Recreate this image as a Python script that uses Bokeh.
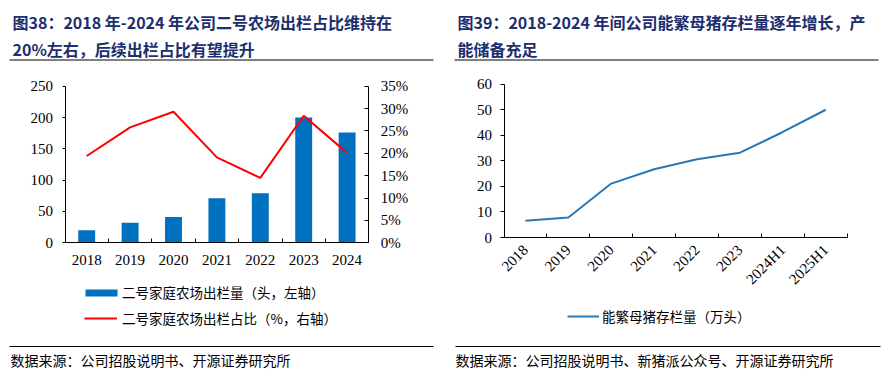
import math
from bokeh.plotting import figure
from bokeh.models import (Range1d, LinearAxis, FixedTicker, NumeralTickFormatter, Label,
                          BoxAnnotation, Legend, LegendItem, ColumnDataSource,
                          CustomJSTickFormatter)
from bokeh.layouts import row
from bokeh.embed import file_html
from bokeh.resources import INLINE

# ---------------- data ----------------
years_a = ["2018", "2019", "2020", "2021", "2022", "2023", "2024"]
output_heads = [20, 32, 41, 71, 79, 200, 176]          # 二号家庭农场出栏量（头）
output_share = [0.194, 0.258, 0.293, 0.191, 0.145, 0.284, 0.201]  # 出栏占比
left_ticks = [0, 50, 100, 150, 200, 250]
pct_ticks = [0, 0.05, 0.10, 0.15, 0.20, 0.25, 0.30, 0.35]

periods_b = ["2018", "2019", "2020", "2021", "2022", "2023", "2024H1", "2025H1"]
sows = [6.6, 7.8, 21.1, 26.7, 30.6, 33.2, 41.3, 50.0]  # 能繁母猪存栏量（万头）
sow_ticks = [0, 10, 20, 30, 40, 50, 60]

title_a = ["图38：2018 年-2024 年公司二号农场出栏占比维持在", "20%左右，后续出栏占比有望提升"]
title_b = ["图39：2018-2024 年间公司能繁母猪存栏量逐年增长，产", "能储备充足"]
legend_a = ["二号家庭农场出栏量（头，左轴）", "二号家庭农场出栏占比（%，右轴）"]
legend_b = "能繁母猪存栏量（万头）"
source_a = "数据来源：公司招股说明书、开源证券研究所"
source_b = "数据来源：公司招股说明书、新猪派公众号、开源证券研究所"

# ---------------- styles / layout ----------------
CJK = "Noto Sans CJK SC"
NUM = "Liberation Serif"
NAVY = "#1C2E6E"
BAR = "#0070C0"
RED = "#FF0000"
BLUE_LINE = "#2878B5"
H = 373
TITLE_SIZE = "16px"
LEGEND_SIZE = "13.5px"


def ranges_for(W, n, px_left, px_right, vmax, px_top, px_bottom):
    """Data ranges so that the plot area lands at the given pixel box while the
    frame covers the whole canvas (so texts outside the plot area are not clipped)."""
    ux = (px_right - px_left) / n
    uy = (px_bottom - px_top) / vmax
    xr = Range1d(-px_left / ux, n + (W - px_right) / ux)
    yr = Range1d(-(H - px_bottom) / uy, vmax + px_top / uy)
    return xr, yr


def style_axis(ax, tick_in=0, tick_out=0, standoff=8):
    ax.axis_line_color = "black"
    ax.axis_line_width = 1
    ax.major_tick_in = tick_in
    ax.major_tick_out = tick_out
    ax.major_tick_line_color = "black"
    ax.minor_tick_line_color = "black"
    ax.minor_tick_in = 0
    ax.minor_tick_out = 0
    ax.major_label_standoff = standoff
    ax.major_label_text_font = NUM
    ax.major_label_text_font_size = "15px"
    ax.major_label_text_color = "black"


def cat_axis(labels, orientation="horizontal", standoff=9):
    n = len(labels)
    ax = LinearAxis(
        ticker=FixedTicker(ticks=[i + 0.5 for i in range(n)], minor_ticks=list(range(1, n + 1))),
        formatter=CustomJSTickFormatter(args=dict(labels=labels),
                                        code="const i = Math.floor(tick); return (i >= 0 && i < labels.length) ? labels[i] : '';"),
        major_label_orientation=orientation, fixed_location=0, bounds=(0, n),
    )
    style_axis(ax, 0, 0, standoff)
    ax.major_tick_line_color = None
    ax.minor_tick_in = 4
    ax.minor_tick_out = 0
    return ax


def add_text(p, text, x, y, size, bold=False, color="black"):
    p.add_layout(Label(x=x, y=y, x_units="screen", y_units="screen", text=text,
                       text_font=CJK, text_font_size=size,
                       text_font_style="bold" if bold else "normal",
                       text_color=color, text_baseline="middle", text_align="left"))


def add_rule(p, x0, x1, y):
    p.add_layout(BoxAnnotation(left=x0, right=x1, bottom=y - 0.6, top=y + 0.6,
                               left_units="screen", right_units="screen",
                               bottom_units="screen", top_units="screen",
                               fill_color="black", fill_alpha=1.0, line_color=None))


def base_fig(W, xr, yr):
    p = figure(width=W, height=H, x_range=xr, y_range=yr, output_backend="svg",
               toolbar_location=None, x_axis_location=None, y_axis_location=None,
               min_border_left=0, min_border_right=0, min_border_top=0, min_border_bottom=0)
    p.grid.visible = False
    p.outline_line_color = None
    p.background_fill_color = "white"
    p.border_fill_color = "white"
    return p


# ---------------- left chart ----------------
W1 = 445
xr1, yr1 = ranges_for(W1, len(years_a), 64.5, 368.3, 250, 85.7, 242.3)
p1 = base_fig(W1, xr1, yr1)
_, pr = ranges_for(W1, len(years_a), 64.5, 368.3, 0.35, 85.7, 242.3)
p1.extra_y_ranges = {"pct": pr}

src1 = ColumnDataSource(dict(year=years_a, x=[i + 0.5 for i in range(len(years_a))],
                             heads=output_heads, share=output_share))
bars = p1.vbar(x="x", top="heads", width=0.39, source=src1, fill_color=BAR, line_color=None)
share_line = p1.line(x="x", y="share", source=src1, y_range_name="pct",
                     line_color=RED, line_width=2)

ax_l = LinearAxis(ticker=FixedTicker(ticks=left_ticks), fixed_location=0, bounds=(0, 250))
style_axis(ax_l, 0, 3, 9)
p1.add_layout(ax_l, "left")
ax_r = LinearAxis(y_range_name="pct", ticker=FixedTicker(ticks=pct_ticks),
                  formatter=NumeralTickFormatter(format="0%"),
                  fixed_location=len(years_a), bounds=(0, 0.35))
style_axis(ax_r, 4, 0, 12)
p1.add_layout(ax_r, "right")
p1.add_layout(cat_axis(years_a, standoff=12), "below")

add_text(p1, title_a[0], 12, 351.3, TITLE_SIZE, bold=True, color=NAVY)
add_text(p1, title_a[1], 12, 325, TITLE_SIZE, bold=True, color=NAVY)
add_rule(p1, 9, 433, 313.5)
add_rule(p1, 9, 433, 27)
add_text(p1, source_a, 10, 13.5, "14px")

leg1 = Legend(items=[LegendItem(label=legend_a[0], renderers=[bars])], location=(81, 71),
              glyph_width=40, glyph_height=9, label_height=20, label_standoff=1,
              padding=0, margin=0, spacing=0, border_line_color=None, background_fill_alpha=0,
              label_text_font=CJK, label_text_font_size=LEGEND_SIZE, label_text_color="black")
leg2 = Legend(items=[LegendItem(label=legend_a[1], renderers=[share_line])], location=(84, 45),
              glyph_width=33, glyph_height=20, label_height=20, label_standoff=5,
              padding=0, margin=0, spacing=0, border_line_color=None, background_fill_alpha=0,
              label_text_font=CJK, label_text_font_size=LEGEND_SIZE, label_text_color="black")
p1.add_layout(leg1)
p1.add_layout(leg2)

# ---------------- right chart ----------------
W2 = 444
xr2, yr2 = ranges_for(W2, len(periods_b), 58.5, 401.7, 60, 83.7, 237.0)
p2 = base_fig(W2, xr2, yr2)

src2 = ColumnDataSource(dict(period=periods_b, x=[i + 0.5 for i in range(len(periods_b))],
                             sows=sows))
sow_line = p2.line(x="x", y="sows", source=src2, line_color=BLUE_LINE, line_width=2)

ax2_l = LinearAxis(ticker=FixedTicker(ticks=sow_ticks), fixed_location=0, bounds=(0, 60))
style_axis(ax2_l, 0, 4, 8)
p2.add_layout(ax2_l, "left")
p2.add_layout(cat_axis(periods_b, orientation=math.pi / 4, standoff=10), "below")

add_text(p2, title_b[0], 12, 351.3, TITLE_SIZE, bold=True, color=NAVY)
add_text(p2, title_b[1], 12, 325, TITLE_SIZE, bold=True, color=NAVY)
add_rule(p2, 9, 433, 313.5)
add_rule(p2, 10, 435, 27)
add_text(p2, source_b, 10, 13.5, "14px")

leg3 = Legend(items=[LegendItem(label=legend_b, renderers=[sow_line])], location=(122, 47),
              glyph_width=32, glyph_height=20, label_height=20, label_standoff=3,
              padding=0, margin=0, spacing=0, border_line_color=None, background_fill_alpha=0,
              label_text_font=CJK, label_text_font_size=LEGEND_SIZE, label_text_color="black")
p2.add_layout(leg3)

layout = row(p1, p2)
open("out.html", "w").write(file_html(layout, INLINE))
